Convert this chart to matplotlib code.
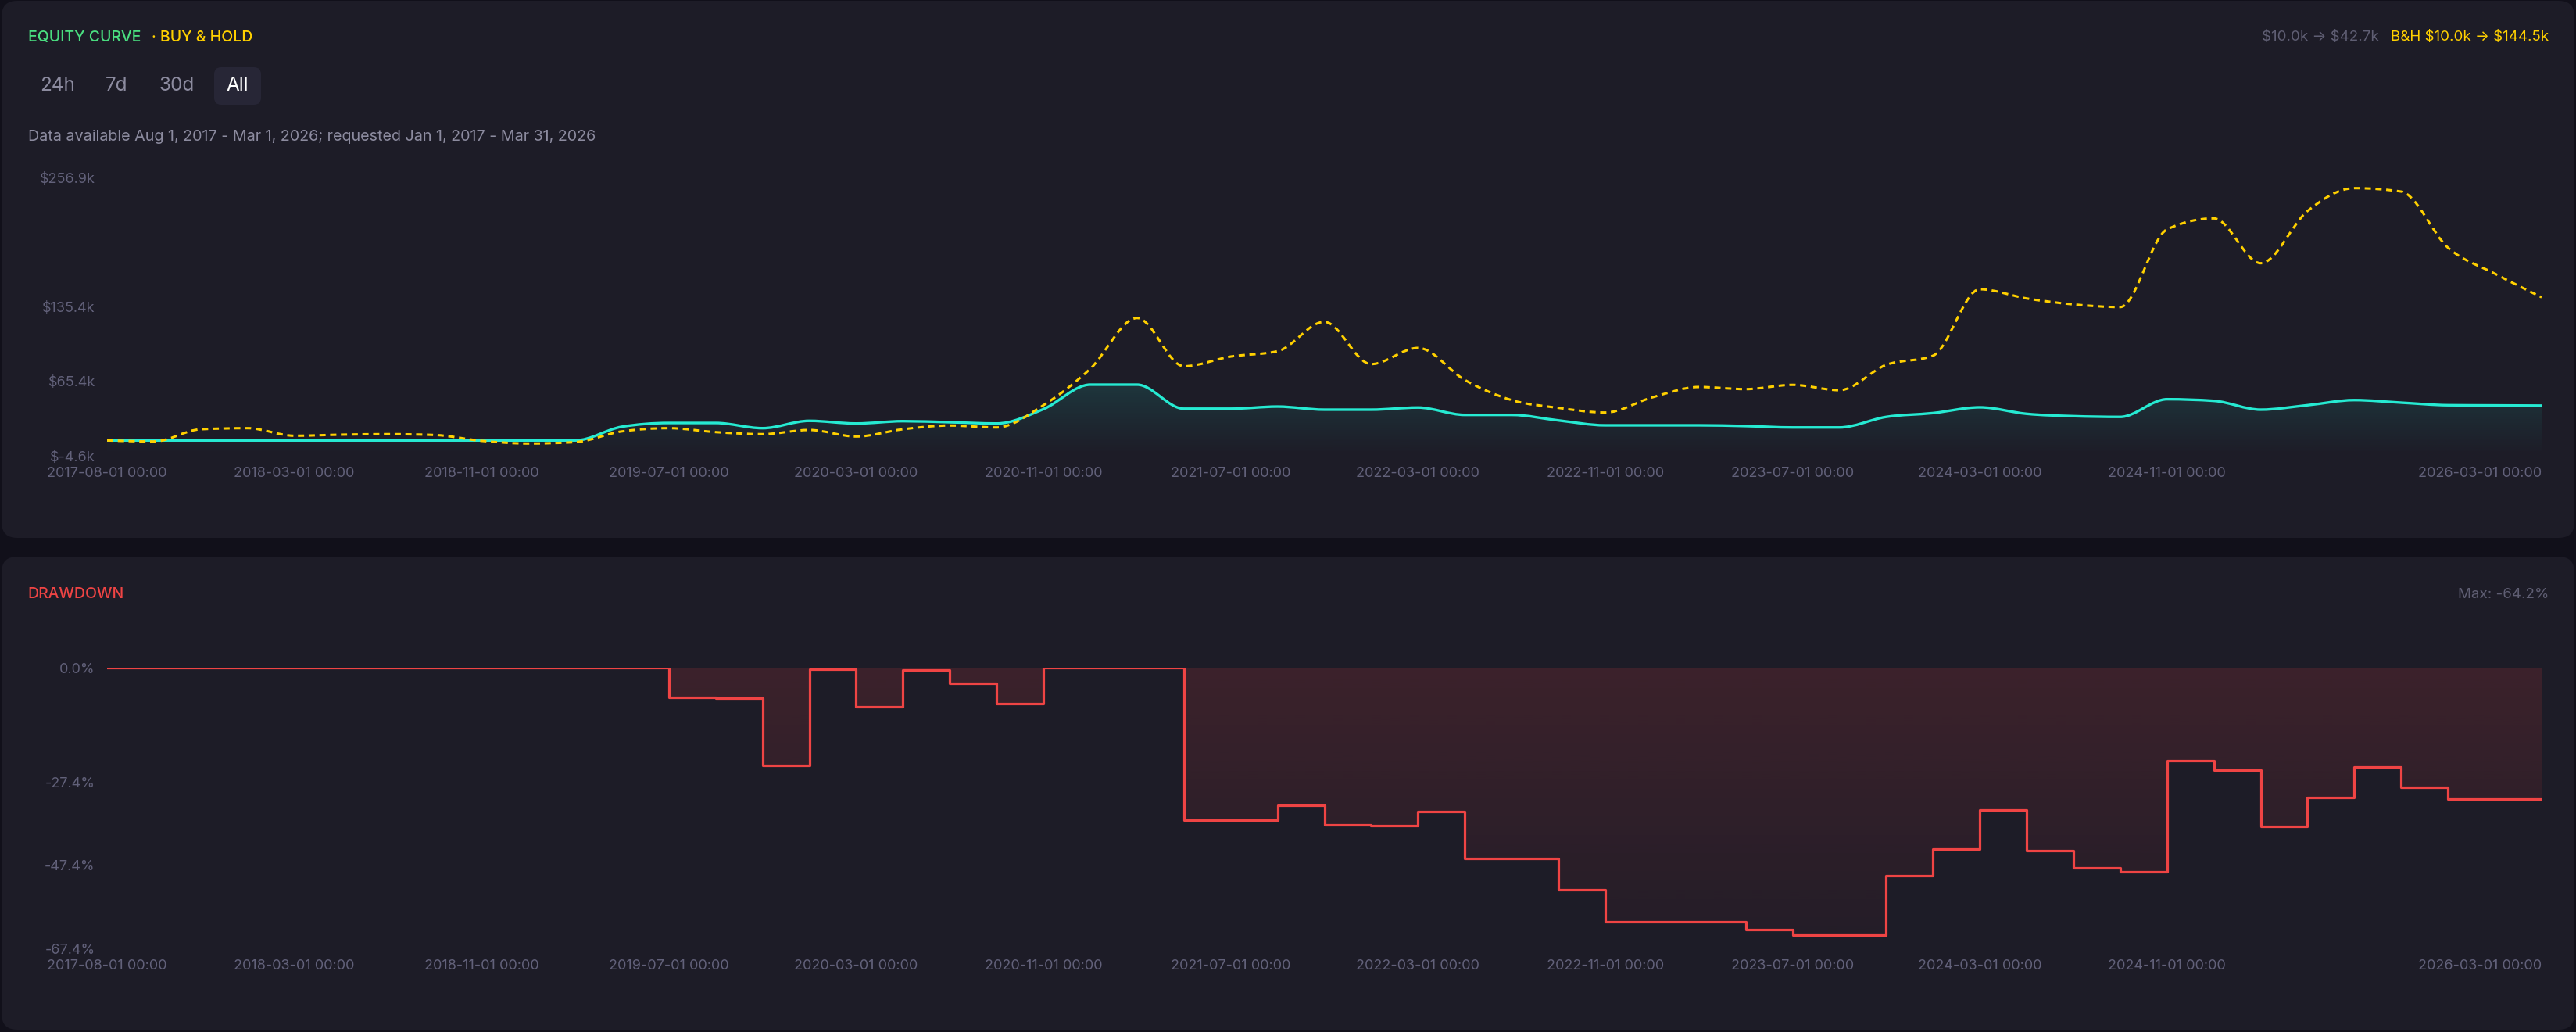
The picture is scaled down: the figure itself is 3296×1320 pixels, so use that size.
import numpy as np
import pandas as pd
import matplotlib
matplotlib.use("Agg")
import matplotlib.pyplot as plt
from matplotlib.path import Path
from matplotlib.patches import PathPatch, FancyBboxPatch
import matplotlib.transforms as mtransforms

plt.rcParams['font.family'] = ['Inter', 'DejaVu Sans']
plt.rcParams['text.parse_math'] = False

# ---- data (values in $k, drawdown in %) ----
dates = [pd.Timestamp("2017-08-01")] + list(pd.date_range("2017-09-01", periods=52, freq="2MS"))

equity = [10.0, 10.0, 10.0, 10.0, 10.0, 10.0, 10.0, 10.0, 10.0, 10.0, 10.0,
          22.9, 26.4, 26.4, 21.5, 28.4, 25.9, 28.1, 27.1, 25.9, 39.4,
          62.4, 62.4, 39.8, 39.8, 41.8, 38.9, 38.9, 40.9, 34.0, 34.0,
          28.8, 24.2, 24.2, 24.2, 23.5, 22.2, 22.2, 32.1, 35.7, 41.1,
          35.0, 32.8, 32.1, 48.7, 47.2, 38.9, 43.1, 47.9, 45.5, 43.1,
          42.9, 42.7]

buy_hold = [10.0, 9.0, 20.5, 21.5, 14.4, 15.4, 15.9, 15.1, 9.6, 7.1, 8.4,
            18.5, 21.5, 17.8, 15.9, 19.8, 13.7, 20.5, 24.0, 22.2, 43.1,
            77.3, 125.0, 79.7, 88.8, 93.8, 121.4, 81.7, 96.9, 66.8, 47.9,
            40.6, 36.2, 50.4, 60.2, 58.2, 62.2, 57.2, 81.0, 89.6, 152.0,
            143.4, 137.8, 135.3, 208.3, 218.6, 176.5, 225.5, 247.0, 243.8, 191.1,
            166.7, 144.5]

drawdown = [0.0, 0.0, 0.0, 0.0, 0.0, 0.0, 0.0, 0.0, 0.0, 0.0, 0.0, 0.0,
            -7.1, -7.3, -23.5, -0.4, -9.3, -0.6, -3.8, -8.6, 0.0, 0.0, 0.0,
            -36.6, -36.6, -33.0, -37.8, -37.9, -34.5, -45.8, -45.8, -53.3,
            -61.0, -61.0, -61.0, -62.8, -64.2, -64.2, -50.0, -43.5, -34.1,
            -44.0, -48.0, -49.0, -22.3, -24.6, -38.0, -31.1, -23.8, -28.7,
            -31.6, -31.6, -31.6]

tick_idx = [0, 4, 8, 12, 16, 20, 24, 28, 32, 36, 40, 44, 52]
eq_ticks = [-4.6, 65.4, 135.4, 256.9]
dd_ticks = [0.0, -27.4, -47.4, -67.4]

# ---- colours ----
BG = '#11101a'
PANEL = '#1d1c27'
CYAN = '#26ead2'
YELLOW = '#ffd000'
RED = '#ef4444'
GREEN = '#4ade80'
TICK = '#62617a'
MUTED = '#8c8b9f'

W, H = 3296, 1320


def monotone_path(x, y):
    # d3 curveMonotoneX as cubic beziers
    x = np.asarray(x, float)
    y = np.asarray(y, float)
    n = len(x)
    h = np.diff(x)
    s = np.diff(y) / h
    t = np.zeros(n)
    for i in range(1, n - 1):
        h0, h1 = h[i - 1], h[i]
        s0, s1 = s[i - 1], s[i]
        p = (s0 * h1 + s1 * h0) / (h0 + h1)
        t[i] = (np.sign(s0) + np.sign(s1)) * min(abs(s0), abs(s1), 0.5 * abs(p))
    t[0] = (3 * s[0] - t[1]) / 2
    t[-1] = (3 * s[-1] - t[-2]) / 2
    verts = [(x[0], y[0])]
    codes = [Path.MOVETO]
    for i in range(n - 1):
        dx = h[i] / 3
        verts += [(x[i] + dx, y[i] + dx * t[i]),
                  (x[i + 1] - dx, y[i + 1] - dx * t[i + 1]),
                  (x[i + 1], y[i + 1])]
        codes += [Path.CURVE4] * 3
    return verts, codes


def gradient_img(ax, color, a_top, a_bot, extent):
    rgb = matplotlib.colors.to_rgb(color)
    g = np.zeros((256, 1, 4))
    g[:, 0, :3] = rgb
    g[:, 0, 3] = np.linspace(a_bot, a_top, 256)
    return ax.imshow(g, extent=extent, origin='lower', aspect='auto',
                     interpolation='bilinear', zorder=1)


fig = plt.figure(figsize=(W / 100, H / 100), dpi=100)
fig.patch.set_facecolor(BG)
ident = mtransforms.IdentityTransform()

# panels (pixel coords, origin bottom-left)
for (x0, ytop, x1, ybot) in [(2, 1, 3294, 688), (2, 712, 3294, 1317)]:
    fig.patches.append(FancyBboxPatch((x0, H - ybot), x1 - x0, ybot - ytop,
                                      boxstyle="round,pad=0,rounding_size=20",
                                      facecolor=PANEL, edgecolor='none',
                                      transform=ident, zorder=-2))
# "All" button background
fig.patches.append(FancyBboxPatch((274, H - 134), 60, 48,
                                  boxstyle="round,pad=0,rounding_size=9",
                                  facecolor='#272636', edgecolor='none',
                                  transform=ident, zorder=-1))

xs = np.arange(len(dates))
tick_labels = [dates[i].strftime('%Y-%m-%d 00:00') for i in tick_idx]

# ---- equity axes ----
ax1 = fig.add_axes([137 / W, 1 - 583.2 / H, 3115 / W, 356 / H])
ax1.set_facecolor('none')

verts, codes = monotone_path(xs, equity)
base = eq_ticks[0]
area = Path(verts + [(xs[-1], base), (xs[0], base), (xs[0], equity[0])],
            codes + [Path.LINETO, Path.LINETO, Path.CLOSEPOLY])
area_patch = PathPatch(area, facecolor='none', edgecolor='none')
ax1.add_patch(area_patch)
img = gradient_img(ax1, CYAN, 0.13, 0.0, [xs[0], xs[-1], base, max(equity)])
img.set_clip_path(area_patch)

ax1.add_patch(PathPatch(Path(verts, codes), fill=False, edgecolor=CYAN,
                        lw=2.4, zorder=3, capstyle='round'))
bverts, bcodes = monotone_path(xs, buy_hold)
ax1.add_patch(PathPatch(Path(bverts, bcodes), fill=False, edgecolor=YELLOW,
                        lw=2.2, linestyle=(0, (2.6, 1.9)), zorder=4))

ax1.set_xlim(xs[0], xs[-1])
ax1.set_ylim(eq_ticks[0], eq_ticks[-1])
ax1.set_yticks(eq_ticks)
ax1.set_yticklabels([f"${v}k" for v in eq_ticks])

# ---- drawdown axes ----
ax2 = fig.add_axes([137 / W, 1 - 1213.2 / H, 3115 / W, 359.2 / H])
ax2.set_facecolor('none')
poly = ax2.fill_between(xs, drawdown, 0, step='post', facecolor='none', edgecolor='none')
img2 = gradient_img(ax2, RED, 0.15, 0.03, [xs[0], xs[-1], dd_ticks[-1], 0])
img2.set_clip_path(poly.get_paths()[0], ax2.transData)
ax2.step(xs, drawdown, where='post', color=RED, lw=2.3, zorder=3)
ax2.set_xlim(xs[0], xs[-1])
ax2.set_ylim(dd_ticks[-1], 0)
ax2.set_yticks(dd_ticks)
ax2.set_yticklabels([f"{v:.1f}%" for v in dd_ticks])

for ax in (ax1, ax2):
    for s in ax.spines.values():
        s.set_visible(False)
    ax.set_xticks(tick_idx)
    ax.set_xticklabels(tick_labels)
    ax.tick_params(axis='both', length=0, colors=TICK, labelsize=13)
    ax.tick_params(axis='x', pad=10)
    ax.tick_params(axis='y', pad=11)
    ax.get_xticklabels()[-1].set_horizontalalignment('right')

# ---- header texts ----
def ftext(x, y, s, **kw):
    fig.text(x / W, 1 - y / H, s, va='center', **kw)

ftext(36, 48, "EQUITY CURVE", color=GREEN, fontsize=14, fontweight='medium')
ftext(194, 48, "· BUY & HOLD", color=YELLOW, fontsize=14, fontweight='medium')
ftext(3261, 48, "B&H $10.0k \u2192 $144.5k", color=YELLOW, fontsize=13.5, ha='right')
ftext(3044, 48, "$10.0k \u2192 $42.7k", color='#5f5e73', fontsize=13.5, ha='right')

for cx, lab in [(73.5, "24h"), (149, "7d"), (226, "30d")]:
    ftext(cx, 109, lab, color=MUTED, fontsize=17.5, ha='center')
ftext(304, 109, "All", color='white', fontsize=17.5, ha='center')

ftext(36, 175, "Data available Aug 1, 2017 - Mar 1, 2026; requested Jan 1, 2017 - Mar 31, 2026",
      color=MUTED, fontsize=14.2)

ftext(35, 760, "DRAWDOWN", color=RED, fontsize=14, fontweight='medium')
ftext(3261, 760, "Max: -64.2%", color='#5f5e73', fontsize=13.5, ha='right')

fig.savefig("out.png", dpi=100, facecolor=BG)
